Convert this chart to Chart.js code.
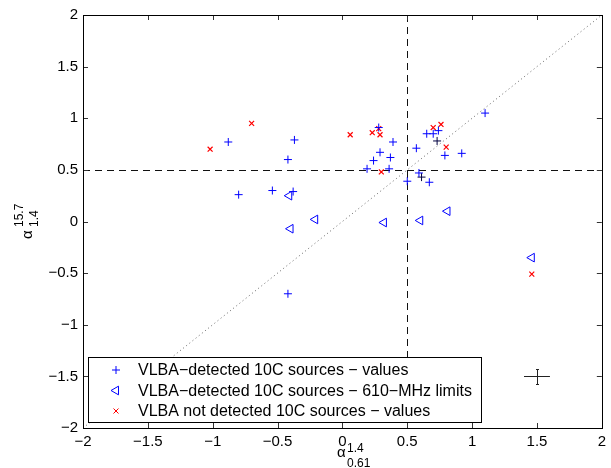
<!DOCTYPE html>
<html>
<head>
<meta charset="utf-8">
<script src="https://cdn.jsdelivr.net/npm/chart.js@4.4.1/dist/chart.umd.min.js"></script>
<style>
  body { margin: 0; background: #fff; }
</style>
</head>
<body>
<canvas id="myChart" width="611" height="468"></canvas>
<script>
const ctx = document.getElementById('myChart');

// VLBA-detected 10C sources - values
const detX = [-0.88, -0.37, -0.42, -0.80, -0.54, -0.38, -0.42, 0.28, 0.39, 0.29, 0.24, 0.37, 0.19, 0.36, 0.50, 0.59, 0.67, 0.57, 0.65, 0.70, 0.74, 0.79, 0.92, 1.10]
const detY = [0.77, 0.79, 0.60, 0.26, 0.30, 0.29, -0.70, 0.91, 0.77, 0.67, 0.59, 0.62, 0.51, 0.51, 0.39, 0.47, 0.38, 0.71, 0.85, 0.85, 0.88, 0.64, 0.66, 1.05]
// two darker crosses
const darkX = [0.61, 0.73]
const darkY = [0.43, 0.78]
// VLBA-detected 10C sources - 610-MHz limits
const limX = [-0.41, -0.21, -0.40, 0.32, 0.60, 0.81, 1.46]
const limY = [0.25, 0.02, -0.07, -0.01, 0.01, 0.10, -0.35]
// VLBA not detected 10C sources - values
const ndX = [-1.02, -0.70, 0.06, 0.23, 0.28, 0.29, 0.30, 0.70, 0.76, 0.80, 1.46]
const ndY = [0.70, 0.95, 0.84, 0.86, 0.90, 0.84, 0.48, 0.91, 0.94, 0.72, -0.51]

const tickVals = [-2, -1.5, -1, -0.5, 0, 0.5, 1, 1.5, 2]
const cutX = 0.5
const cutY = 0.5
// typical error bar
const errCenter = [1.5, -1.5]
const errX = 0.1
const errY = 0.075

const legendLabels = [
  'VLBA\u2212detected 10C sources \u2212 values',
  'VLBA\u2212detected 10C sources \u2212 610\u2212MHz limits',
  'VLBA not detected 10C sources \u2212 values'
]

function pts(xs, ys) {
  return xs.map((x, i) => ({x: x, y: ys[i]}))
}

const FONT = '"Liberation Sans", Arial, Helvetica, sans-serif'
Chart.defaults.font.family = FONT
Chart.defaults.color = '#000'

// marker drawing for the legend
function marker(c, kind, x, y, color) {
  c.save()
  c.strokeStyle = color
  c.lineWidth = 1
  c.beginPath()
  if (kind == 'plus') {
    c.moveTo(x - 4, y); c.lineTo(x + 4, y)
    c.moveTo(x, y - 4); c.lineTo(x, y + 4)
  } else if (kind == 'tri') {
    const r = 5
    c.moveTo(x - r, y)
    c.lineTo(x + r / 2, y - r * Math.sqrt(3) / 2)
    c.lineTo(x + r / 2, y + r * Math.sqrt(3) / 2)
    c.closePath()
  } else {
    const d = 2.5
    c.moveTo(x - d, y - d); c.lineTo(x + d, y + d)
    c.moveTo(x - d, y + d); c.lineTo(x + d, y - d)
  }
  c.stroke()
  c.restore()
}

const crisp = v => Math.round(v) + 0.5

const framePlugin = {
  id: 'frame',
  beforeDatasetsDraw(chart) {
    const c = chart.ctx
    const xs = chart.scales.x, ys = chart.scales.y
    const a = chart.chartArea
    c.save()
    c.beginPath()
    c.rect(a.left, a.top, a.right - a.left, a.bottom - a.top)
    c.clip()
    // y = x reference line
    c.strokeStyle = '#666'
    c.lineWidth = 1
    c.setLineDash([1, 3])
    c.beginPath()
    c.moveTo(xs.getPixelForValue(-2), ys.getPixelForValue(-2))
    c.lineTo(xs.getPixelForValue(2), ys.getPixelForValue(2))
    c.stroke()
    // dashed cut lines
    c.strokeStyle = '#111'
    c.setLineDash([7, 5])
    c.beginPath()
    c.moveTo(crisp(xs.getPixelForValue(cutX)), a.top)
    c.lineTo(crisp(xs.getPixelForValue(cutX)), a.bottom)
    c.moveTo(a.left, crisp(ys.getPixelForValue(cutY)))
    c.lineTo(a.right, crisp(ys.getPixelForValue(cutY)))
    c.stroke()
    c.restore()
  },
  afterDatasetsDraw(chart) {
    const c = chart.ctx
    const xs = chart.scales.x, ys = chart.scales.y
    const a = chart.chartArea
    c.save()
    // error bar cross
    const ex = crisp(xs.getPixelForValue(errCenter[0])), ey = crisp(ys.getPixelForValue(errCenter[1]))
    c.strokeStyle = '#222'
    c.lineWidth = 1
    c.beginPath()
    c.moveTo(xs.getPixelForValue(errCenter[0] - errX), ey)
    c.lineTo(xs.getPixelForValue(errCenter[0] + errX), ey)
    const t = crisp(ys.getPixelForValue(errCenter[1] + errY)), b = crisp(ys.getPixelForValue(errCenter[1] - errY))
    c.moveTo(ex, t); c.lineTo(ex, b)
    c.moveTo(ex - 1.5, t); c.lineTo(ex + 1.5, t)
    c.moveTo(ex - 1.5, b); c.lineTo(ex + 1.5, b)
    c.stroke()

    // inward ticks on all sides
    c.strokeStyle = '#333'
    c.beginPath()
    tickVals.forEach(v => {
      const px = crisp(xs.getPixelForValue(v))
      c.moveTo(px, a.bottom); c.lineTo(px, a.bottom - 5)
      c.moveTo(px, a.top); c.lineTo(px, a.top + 5)
      const py = crisp(ys.getPixelForValue(v))
      c.moveTo(a.left, py); c.lineTo(a.left + 5, py)
      c.moveTo(a.right, py); c.lineTo(a.right - 5, py)
    })
    c.stroke()

    // box
    c.strokeStyle = '#000'
    c.strokeRect(crisp(a.left), crisp(a.top), Math.round(a.right - a.left), Math.round(a.bottom - a.top))

    // legend
    const lx = a.left + 5, ly = a.bottom - 71
    c.fillStyle = '#fff'
    c.fillRect(lx, ly, 393, 65)
    c.strokeStyle = '#000'
    c.strokeRect(crisp(lx), crisp(ly), 393, 65)
    const kinds = ['plus', 'tri', 'x']
    const cols = ['#0000ff', '#0000ff', '#ff0000']
    c.font = '16px ' + FONT
    c.textBaseline = 'middle'
    legendLabels.forEach((s, i) => {
      const yy = ly + 13 + i * 20.5
      marker(c, kinds[i], lx + 28, yy, cols[i])
      c.fillStyle = '#000'
      c.fillText(s, lx + 50, yy + 1)
    })

    // axis labels
    c.fillStyle = '#000'
    c.textBaseline = 'alphabetic'
    c.font = '15px ' + FONT
    c.fillText('\u03b1', 337, 457)
    c.font = '12px ' + FONT
    c.fillText('1.4', 347, 452)
    c.fillText('0.61', 347, 467)

    c.translate(32, 239)
    c.rotate(-Math.PI / 2)
    c.font = '15px ' + FONT
    c.fillText('\u03b1', 0, 0)
    c.font = '12px ' + FONT
    c.fillText('15.7', 12, -9)
    c.fillText('1.4', 12, 6)
    c.restore()
  }
}

function axis(id) {
  return {
    type: 'linear',
    min: -2,
    max: 2,
    grid: { display: false, drawTicks: false },
    border: { display: false },
    afterBuildTicks: s => { s.ticks = tickVals.map(v => ({value: v})) },
    ticks: {
      padding: 5,
      font: { size: 15 },
      color: '#000',
      callback: v => String(v).replace('-', '\u2212')
    },
    afterFit: s => {
      if (id == 'x') s.height = 40
      else s.width = 83
    }
  }
}

new Chart(ctx, {
  type: 'scatter',
  data: {
    datasets: [
      {
        data: pts(detX, detY),
        pointStyle: 'cross',
        pointRadius: 4,
        borderColor: '#0000ff',
        borderWidth: 1
      },
      {
        data: pts(darkX, darkY),
        pointStyle: 'cross',
        pointRadius: 4,
        borderColor: '#000040',
        borderWidth: 1
      },
      {
        data: pts(limX, limY),
        pointStyle: 'triangle',
        pointRotation: -90,
        pointRadius: 5,
        borderColor: '#0000ff',
        backgroundColor: 'rgba(0,0,0,0)',
        borderWidth: 1
      },
      {
        data: pts(ndX, ndY),
        pointStyle: 'crossRot',
        pointRadius: 3.5,
        borderColor: '#ff0000',
        borderWidth: 1.2
      }
    ]
  },
  options: {
    responsive: false,
    animation: false,
    devicePixelRatio: 1,
    layout: { padding: { left: 0, top: 15, right: 9, bottom: 0 } },
    plugins: {
      legend: { display: false },
      tooltip: { enabled: false }
    },
    scales: {
      x: axis('x'),
      y: axis('y')
    }
  },
  plugins: [framePlugin]
});
</script>
</body>
</html>
